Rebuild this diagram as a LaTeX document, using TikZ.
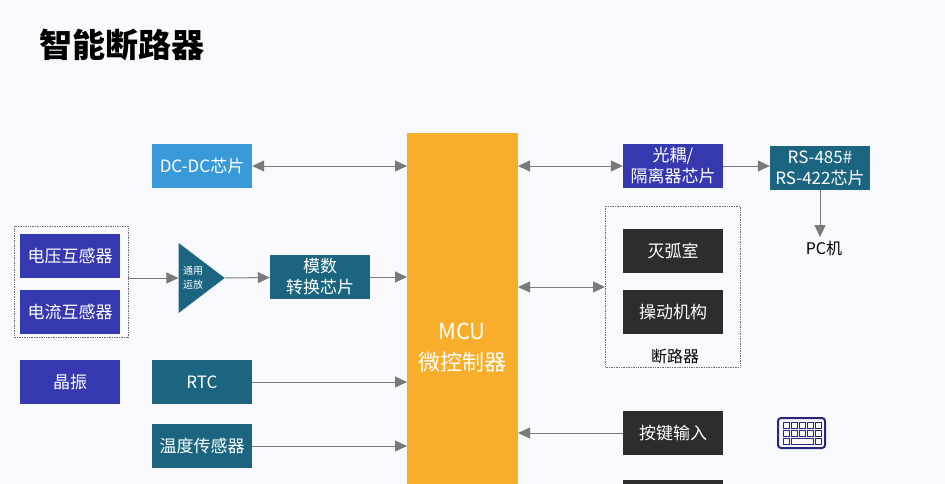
\documentclass[tikz,border=0pt]{standalone}
\usepackage{fontspec}
\setmainfont{Noto Sans CJK SC}
\usetikzlibrary{arrows.meta,shapes.geometric}
\definecolor{bgc}{HTML}{F7F9FC}
\definecolor{mcuc}{HTML}{F9AE2B}
\definecolor{bluec}{HTML}{3538AE}
\definecolor{tealc}{HTML}{1B6580}
\definecolor{skyc}{HTML}{3A9AD9}
\definecolor{darkc}{HTML}{2D2D2D}
\definecolor{arrc}{HTML}{7A7A7A}
\tikzset{box/.style={minimum width=100pt, minimum height=44pt, inner sep=0,
  text=white, align=center, font=\fontsize{17}{21}\selectfont},
  bbox/.style={box, fill=bluec}, tbox/.style={box, fill=tealc},
  dbox/.style={box, fill=darkc}, link/.style={draw=arrc, line width=1pt, -{Triangle[length=12pt,width=11pt]}},
  dlink/.style={link, {Triangle[length=12pt,width=11pt]}-{Triangle[length=12pt,width=11pt]}},
  grp/.style={draw=darkc!70, densely dotted, line width=0.7pt}}

\begin{document}
\begin{tikzpicture}[x=1pt, y=-1pt]
    \fill [bgc] (0,0) rectangle (945,484);
    \useasboundingbox (0,0) rectangle (945,484);
    \node [anchor=west, font=\fontsize{33}{36}\selectfont\bfseries] (title) at (36,45) {智能断路器};
    % MCU
    \fill [mcuc] (407,133) rectangle (518,484);
    \node [text=white, align=center, font=\fontsize{22}{31}\selectfont] (mcu) at (462,348) {MCU\\微控制器};
    \coordinate (mcuW) at (407,0);
    \coordinate (mcuE) at (518,0);
    % left side
    \node [box, fill=skyc] (dcdc) at (202,166) {DC-DC芯片};
    \node [bbox] (vt) at (70,256) {电压互感器};
    \node [bbox] (ct) at (70,312) {电流互感器};
    \draw [grp] (14,226) rectangle (128,337);
    \coordinate (sens) at (128,278);
    \node [isosceles triangle, fill=tealc, minimum height=46pt, minimum width=70pt,
      isosceles triangle stretches, inner sep=0] (amp) at (196,278) {};
    \node [text=white, align=left, font=\fontsize{10}{14}\selectfont] at (193,278) {通用\\运放};
    \node [tbox] (adc) at (320,277) {模数\\转换芯片};
    \node [bbox] (xtal) at (70,382) {晶振};
    \node [tbox] (rtc) at (202,382) {RTC};
    \node [tbox] (temp) at (202,446) {温度传感器};
    \draw [dlink] (dcdc) -- (dcdc -| mcuW);
    \draw [link] (sens) -- (amp.west);
    \draw [link] (amp.apex) -- (adc);
    \draw [link] (adc) -- (adc -| mcuW);
    \draw [link] (rtc) -- (rtc -| mcuW);
    \draw [link] (temp) -- (temp -| mcuW);
    % right side
    \node [bbox] (iso) at (673,166) {光耦/\\隔离器芯片};
    \node [tbox] (rs) at (820,168) {RS-485\#\\RS-422芯片};
    \node [font=\fontsize{16}{19}\selectfont] (pc) at (824,248) {PC机};
    \node [dbox] (arc) at (673,251) {灭弧室};
    \node [dbox] (mech) at (673,312) {操动机构};
    \draw [grp] (605,206) rectangle (740,367);
    \coordinate (brk) at (605,287);
    \node [font=\fontsize{16}{19}\selectfont] (brklbl) at (675,356) {断路器};
    \node [dbox] (key) at (673,433) {按键输入};
    \draw [dlink] (iso -| mcuE) -- (iso);
    \draw [link] (iso) -- (iso -| rs.west);
    \draw [link] (rs) -- (rs |- pc.north);
    \draw [dlink] (brk -| mcuE) -- (brk);
    \draw [link] (key) -- (key -| mcuE);
    \fill [darkc] (623,480) rectangle (723,484);
    % keyboard icon
    \draw [draw=bluec!70!black, line width=2pt, rounded corners=3pt] (778,418) rectangle (825,448);
    \foreach \r in {0,1} \foreach \c in {0,...,4}
      \draw [bluec!70!black, line width=0.8pt] (783+\c*8,422+\r*8) rectangle +(6,6);
    \draw [bluec!70!black, line width=0.8pt] (783,438) rectangle +(6,6);
    \draw [bluec!70!black, line width=0.8pt] (791,438) rectangle +(22,6);
    \draw [bluec!70!black, line width=0.8pt] (815,438) rectangle +(6,6);
\end{tikzpicture}
\end{document}
